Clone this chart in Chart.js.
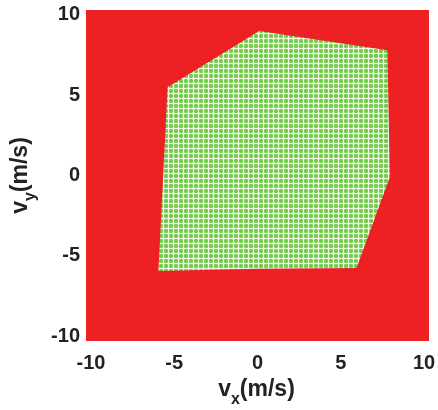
<!DOCTYPE html>
<html>
<head>
<meta charset="utf-8">
<script src="https://cdn.jsdelivr.net/npm/chart.js@4"></script>
<style>
  html, body { margin: 0; padding: 0; background: #fff; }
  #wrap { width: 438px; height: 410px; }
</style>
</head>
<body>
<div id="wrap"><canvas id="chart"></canvas></div>
<script>
// velocity space boundary (red) and reachable region (green)
const boundVx = [-10.3, 10.3, 10.3, -10.3, -10.3];
const boundVy = [-10.3, -10.3, 10.3, 10.3, -10.3];
const regionVx = [0.1, 7.8, 7.95, 5.95, 0.0, -5.95, -5.4, 0.1];
const regionVy = [9.0, 7.8, -0.1, -5.75, -5.8, -5.95, 5.5, 9.0];
const tickValues = [-10, -5, 0, 5, 10];

const FONT = '"Liberation Sans", Arial, sans-serif';

function toPoints(xs, ys) {
  return xs.map((x, i) => ({ x: x, y: ys[i] }));
}

// plaid fill like the original hatched area
function gridPattern() {
  const c = document.createElement('canvas');
  c.width = 5; c.height = 5;
  const g = c.getContext('2d');
  g.fillStyle = 'rgb(162,222,130)';
  g.fillRect(0, 0, 5, 5);
  g.fillStyle = 'rgb(118,204,78)';
  g.fillRect(0, 0, 2, 5);
  g.fillRect(0, 0, 5, 2);
  g.fillStyle = 'rgb(238,250,230)';
  g.fillRect(3, 0, 1, 5);
  g.fillRect(0, 3, 5, 1);
  return g.createPattern(c, 'repeat');
}

const axisTitles = {
  id: 'axisTitles',
  afterDraw(chart) {
    const ctx = chart.ctx;
    const area = chart.chartArea;
    ctx.save();
    ctx.fillStyle = '#222';
    ctx.textBaseline = 'alphabetic';
    const big = 'bold 23px ' + FONT;
    const small = 'bold 16px ' + FONT;

    function titled(sub) {
      ctx.font = big;
      const w1 = ctx.measureText('v').width;
      const w3 = ctx.measureText('(m/s)').width;
      ctx.font = small;
      const w2 = ctx.measureText(sub).width;
      let x = -(w1 + w2 + w3) / 2;
      ctx.font = big;
      ctx.fillText('v', x, 0);
      x += w1;
      ctx.font = small;
      ctx.fillText(sub, x, 8);
      x += w2;
      ctx.font = big;
      ctx.fillText('(m/s)', x, 0);
    }

    ctx.translate((area.left + area.right) / 2 - 1, 396);
    titled('x');
    ctx.setTransform(1, 0, 0, 1, 0, 0);
    ctx.translate(27, (area.top + area.bottom) / 2);
    ctx.rotate(-Math.PI / 2);
    titled('y');
    ctx.restore();
  }
};

new Chart(document.getElementById('chart'), {
  type: 'scatter',
  data: {
    datasets: [
      {
        data: toPoints(regionVx, regionVy),
        showLine: true,
        fill: 'shape',
        backgroundColor: gridPattern(),
        borderWidth: 0,
        pointRadius: 0,
        tension: 0
      },
      {
        data: toPoints(boundVx, boundVy),
        showLine: true,
        fill: 'shape',
        backgroundColor: 'rgb(237,32,36)',
        borderWidth: 0,
        pointRadius: 0,
        tension: 0
      }
    ]
  },
  options: {
    responsive: true,
    maintainAspectRatio: false,
    animation: false,
    layout: { padding: { top: 10, right: 9, left: 0, bottom: 0 } },
    plugins: {
      legend: { display: false },
      tooltip: { enabled: false }
    },
    scales: {
      x: {
        min: -10.3,
        max: 10.3,
        afterBuildTicks: (axis) => { axis.ticks = tickValues.map(v => ({ value: v })); },
        afterFit: (axis) => {
          axis.height = 69;
          axis.paddingLeft = 0;
          axis.paddingRight = 0;
        },
        grid: { display: false, drawTicks: false },
        border: { display: false },
        ticks: {
          maxRotation: 0,
          padding: 10,
          color: '#222',
          font: { family: FONT, size: 20, weight: 'bold' }
        }
      },
      y: {
        min: -10.3,
        max: 10.3,
        afterBuildTicks: (axis) => { axis.ticks = tickValues.map(v => ({ value: v })); },
        afterFit: (axis) => {
          axis.width = 86;
          axis.paddingTop = 0;
          axis.paddingBottom = 0;
        },
        grid: { display: false, drawTicks: false },
        border: { display: false },
        ticks: {
          padding: 6,
          color: '#222',
          font: { family: FONT, size: 20, weight: 'bold' }
        }
      }
    }
  },
  plugins: [axisTitles]
});
</script>
</body>
</html>
